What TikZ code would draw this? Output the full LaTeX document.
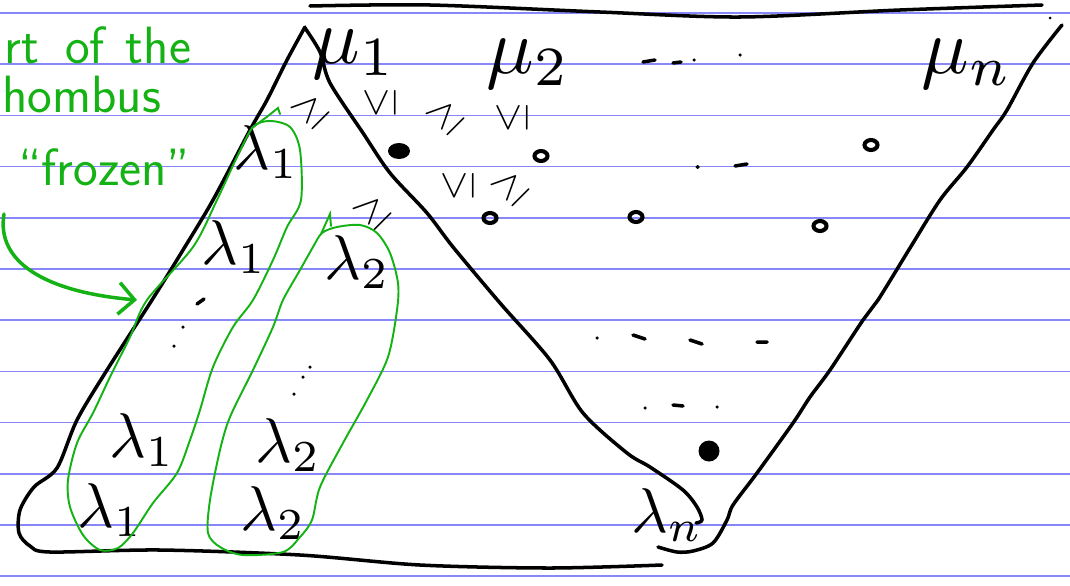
\documentclass[tikz,border=0pt]{standalone}
\usepackage{amsmath,amssymb}
\usetikzlibrary{arrows.meta}
\definecolor{pen}{RGB}{20,178,20}
\definecolor{ruled}{RGB}{135,135,250}
\tikzset{>=Stealth,every node/.style={inner sep=0pt},
  ink/.style={line width=2pt,line cap=round,line join=round},
  ruleline/.style={ruled,line width=0.9pt},
  frozen/.style={pen,line width=1.1pt,line cap=round},
  note/.style={pen,font=\sffamily\Huge,scale=1.2,anchor=base west},
  lam/.style={scale=3.6},mulab/.style={scale=4.5},ineq/.style={scale=2.3},
  blob/.style={fill=black},ring/.style={line width=2.3pt}}

\begin{document}
\begin{tikzpicture}[x=0.02cm,y=-0.02cm]
\useasboundingbox (0,0) rectangle (1070,585);
\clip (0,0) rectangle (1070,585);
\fill[white] (0,0) rectangle (1070,585);
\foreach \k in {0,...,11} \draw[ruleline] (0,{13+51.2*\k}) -- (1070,{13+51.2*\k});
\draw[ink] plot[smooth] coordinates {(310,6) (430,5) (600,12) (740,17) (900,10) (1042,5)};
\draw[ink] plot[smooth] coordinates {(305,27) (287,60) (267,100) (250,130) (213,200) (183,250) (152,300) (107,370) (77,420) (57,468) (34,487) (20,510) (19,533) (30,546) (50,552) (160,550) (300,555) (420,565) (550,568) (662,565)};
\draw[ink] plot[smooth] coordinates {(305,28) (320,52) (330,83) (363,133) (390,173) (427,213) (453,247) (500,303) (550,360) (583,413) (627,453) (650,467) (683,490) (697,507) (702,520) (696,523)};
\draw[ink] plot[smooth] coordinates {(1062,25) (1033,63) (1007,110) (993,130) (967,167) (940,200) (910,248) (878,300) (863,320) (830,370) (810,397) (793,423) (757,473) (733,505) (727,520) (713,543) (693,551) (677,552) (658,547)};
\fill (1050,18) circle (0.03cm);
\node[mulab] (mu1) at (354,54) {$\mu_1$};\node[mulab] (mu2) at (528,64) {$\mu_2$};\node[mulab] (mun) at (967,64) {$\mu_n$};
\node[ineq,rotate=45] (ge1) at (310,110) {$\geq$};\node[ineq,rotate=90] (le1) at (380,103) {$\leq$};
\node[ineq,rotate=45] (ge2) at (445,116) {$\geq$};\node[ineq,rotate=90] (le2) at (512,118) {$\leq$};
\node[ineq,rotate=90] (le3) at (458,186) {$\leq$};\node[ineq,rotate=45] (ge3) at (510,187) {$\geq$};
\node[ineq,rotate=45] (ge4) at (372,211) {$\geq$};
\fill[blob] (399,151) ellipse [x radius=0.22cm,y radius=0.16cm];
\fill[blob] (709,451) ellipse [x radius=0.21cm,y radius=0.21cm];
\foreach \p in {(541,156),(490,218),(636,217),(871,145),(820,226)} \draw[ring] \p ellipse [x radius=0.13cm,y radius=0.1cm];
\draw[ink] (643,62)--(655,60) (673,63)--(681,62) (697,167)--(698,167) (735,166)--(747,164);
\draw[ink] (633,335)--(645,339) (690,340)--(702,344) (757,342)--(767,342) (673,405)--(683,406);
\foreach \p in {(694,60),(740,55),(597,338),(645,408),(717,407),(310,367),(303,377),(294,394),(183,327),(174,346)} \fill \p circle (0.035cm);
\draw[ink] (197,304)--(204,299);
\node[lam] (l1a) at (266,152) {$\lambda_1$};\node[lam] (l1b) at (234,247) {$\lambda_1$};
\node[lam] (l1c) at (142,440) {$\lambda_1$};\node[lam] (l1d) at (110,510) {$\lambda_1$};
\node[lam] (l2a) at (357,262) {$\lambda_2$};\node[lam] (l2b) at (288,445) {$\lambda_2$};
\node[lam] (l2c) at (273,513) {$\lambda_2$};\node[lam] (ln) at (667,515) {$\lambda_n$};
\draw[frozen] plot[smooth cycle] coordinates {(253,127) (270,121) (290,127) (300,150) (301,200) (287,227) (273,260) (253,300) (233,327) (213,367) (200,410) (190,440) (177,473) (153,503) (133,533) (118,548) (100,550) (83,535) (70,507) (68,480) (77,443) (93,413) (110,377) (130,337) (147,300) (193,247) (217,200) (237,157)};
\draw[frozen] (252,128)--(268,116)--(278,108)--(280,114);
\draw[frozen] plot[smooth cycle] coordinates {(322,233) (337,227) (360,225) (377,233) (390,253) (398,283) (397,310) (388,357) (367,400) (343,443) (320,487) (312,520) (300,537) (283,552) (243,555) (220,547) (208,533) (210,500) (220,450) (230,417) (253,370) (273,327) (283,300) (300,270) (313,247)};
\draw[frozen] (321,234)--(330,214)--(331,226);
\node[note] (part) at (4,63) {rt\hspace{0.5em}of\hspace{0.4em}the};
\node[note] (rhombus) at (2,112) {hombus};
\node[note] (frozenword) at (18,185) {``frozen''};
\coordinate (tail) at (4,214);\coordinate (head) at (137,300);
\draw[pen,line width=2pt,line cap=round,-{Straight Barb[length=9pt,width=18pt]}] (tail) .. controls (-4,262) and (45,292) .. (head);
\end{tikzpicture}
\end{document}
